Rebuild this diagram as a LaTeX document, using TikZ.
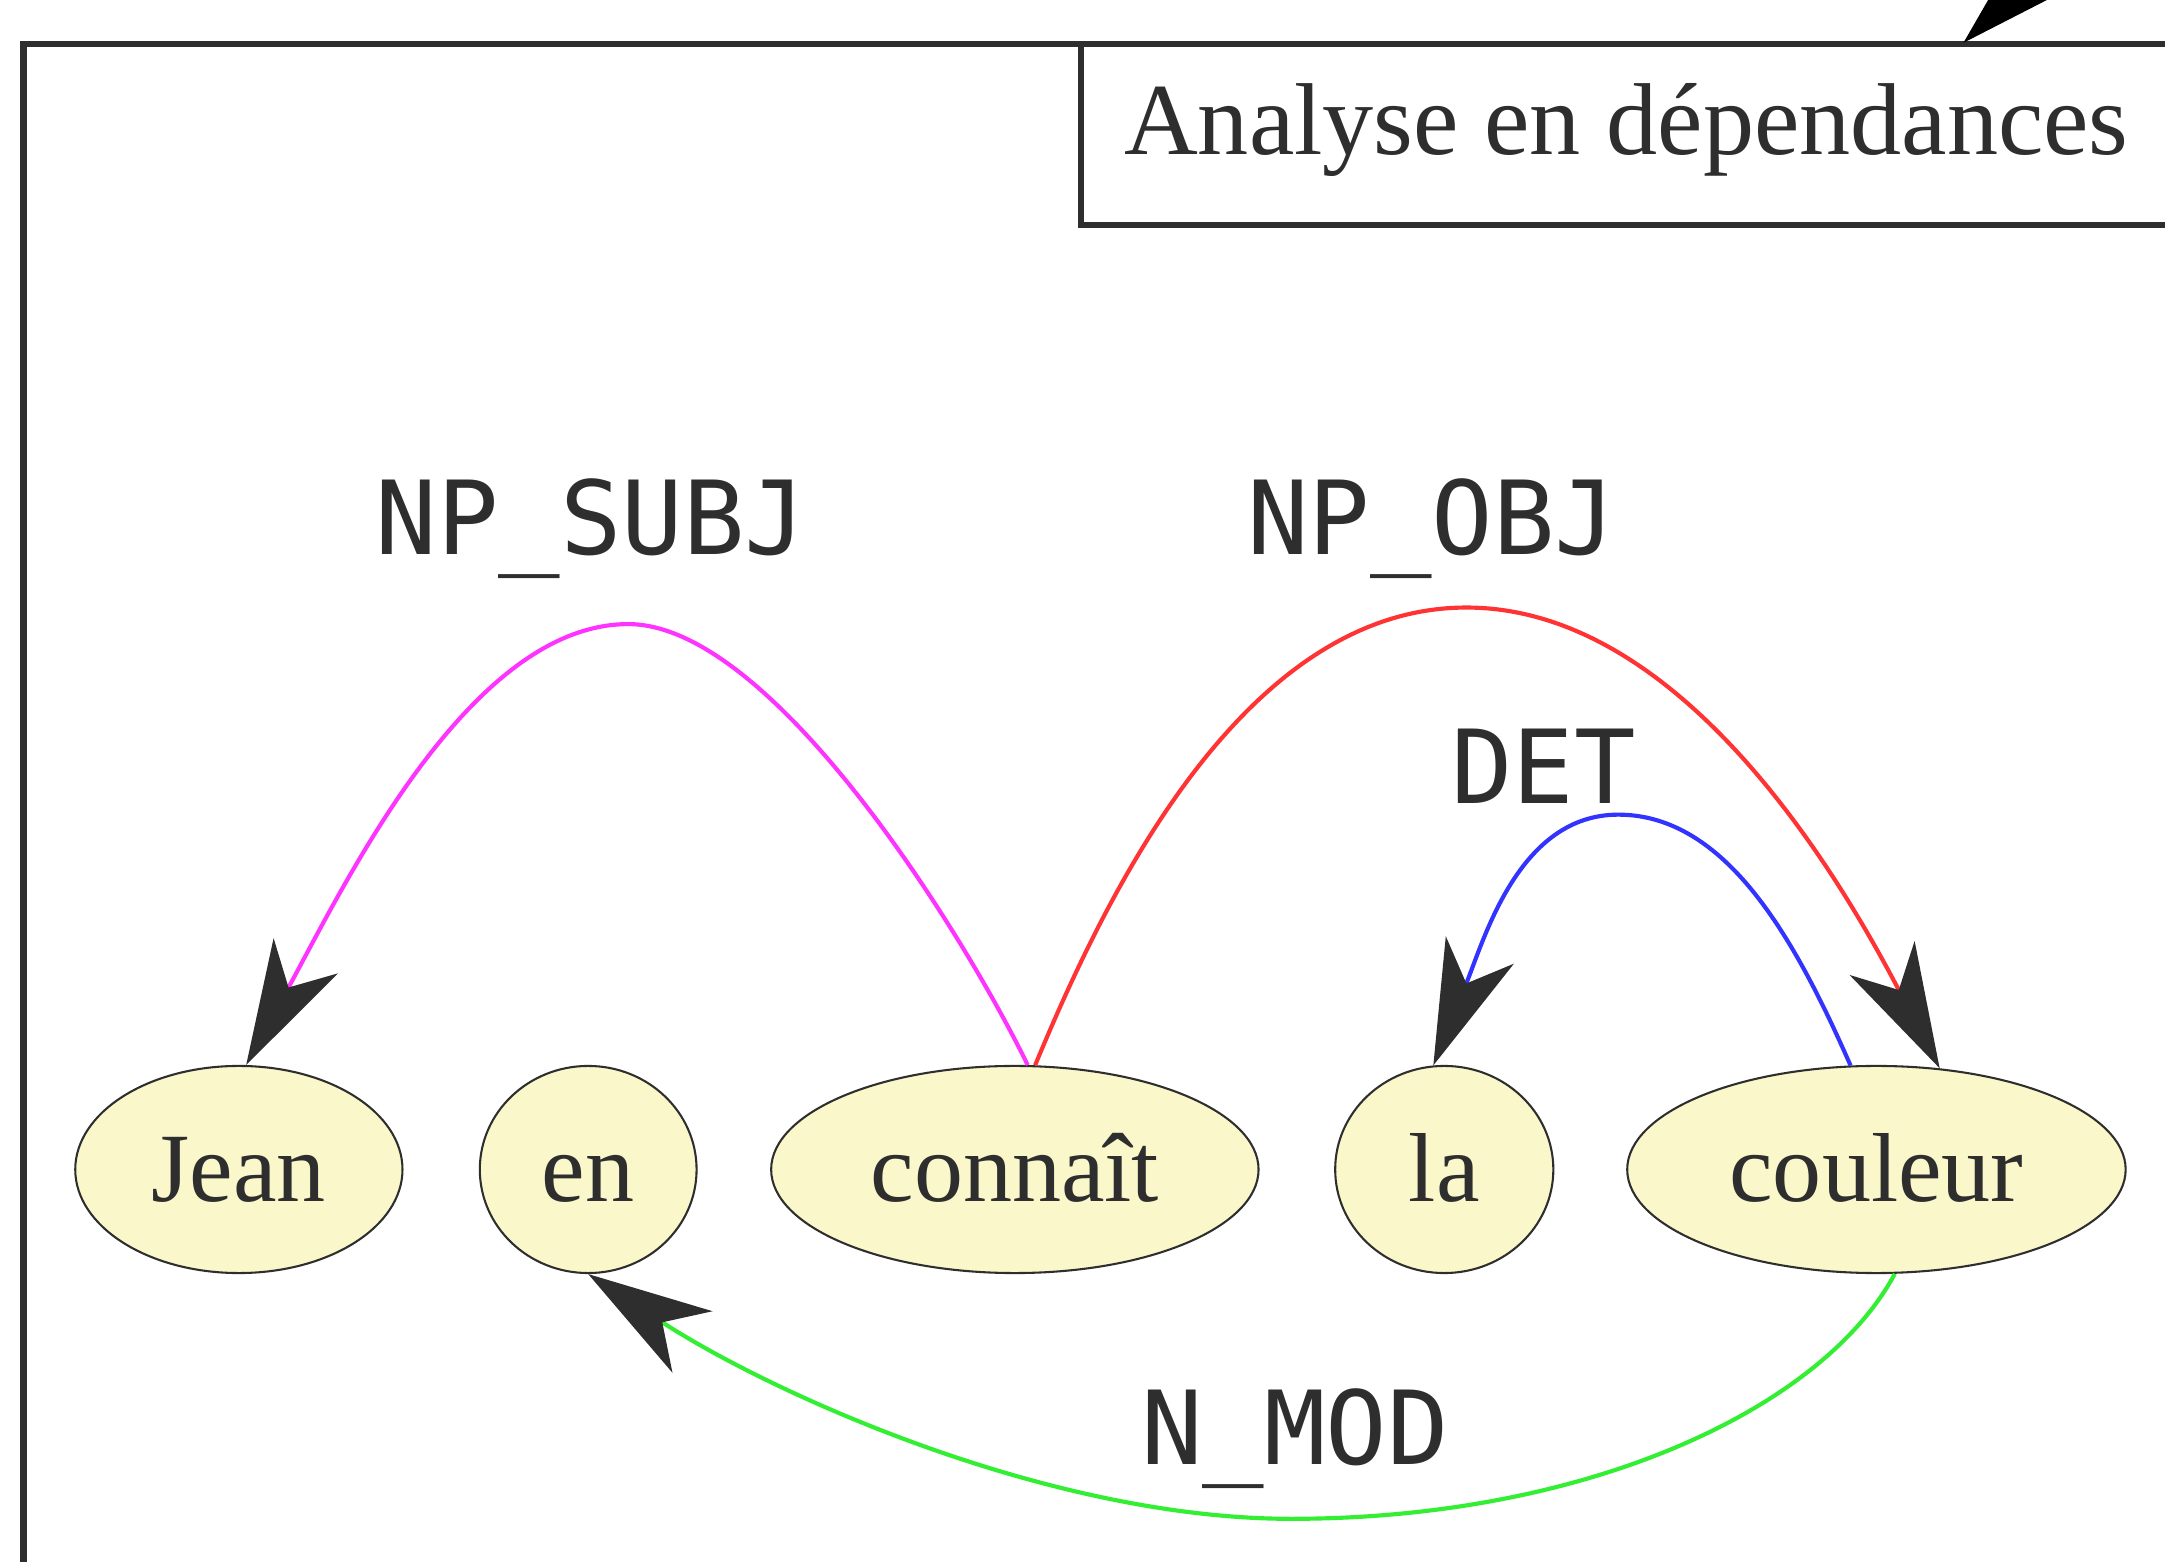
\documentclass[tikz,border=0pt]{standalone}
\usepackage{fontspec}
\setmainfont{Liberation Serif}
\newfontfamily\labfont{DejaVu Sans Mono}
\usetikzlibrary{arrows.meta,shapes.geometric}
\definecolor{nodefill}{HTML}{FAF7CA}
\definecolor{inkgray}{HTML}{2E2E2E}
\definecolor{cmag}{HTML}{FF33FF}
\definecolor{cred}{HTML}{FF3333}
\definecolor{cblue}{HTML}{3333FF}
\definecolor{cgreen}{HTML}{33EE33}
\begin{document}
\begin{tikzpicture}[x=1pt,y=-1pt,
  word/.style={ellipse, draw=inkgray, line width=1.5pt, fill=nodefill, inner sep=0pt,
    minimum height=150pt, text=inkgray, text height=50pt, text depth=4pt,
    font=\fontsize{71}{71}\selectfont},
  lab/.style={font=\labfont\fontsize{74}{74}\selectfont, text=inkgray, inner sep=0pt},
  tip/.style={-{Stealth[length=90pt,width=53pt,inset=26pt,color=inkgray]}},
  dep/.style={line width=3pt, tip}]
\clip (0,0) rectangle (1568,1131);
% frame and title box
\draw[line width=4.5pt, inkgray] (17,32) rectangle (1640,1200);
\draw[line width=4.5pt, inkgray] (783,32) rectangle (1640,163);
\node[anchor=base west, inner sep=0pt, text=inkgray, font=\fontsize{74}{74}\selectfont] (title) at (814,112) {Analyse en dépendances};
\coordinate (src) at (1567,-107);
\coordinate (tgt) at (1422,31);
\draw[line width=3pt, black, -{Stealth[length=90pt,width=53pt,inset=26pt,color=black]}] (src) -- (tgt);
% words
\node[word, minimum width=237pt] (jean) at (173,847) {Jean};
\node[word, minimum width=157pt] (en) at (426,847) {en};
\node[word, minimum width=353pt] (connait) at (735,847) {connaît};
\node[word, minimum width=158pt] (la) at (1046,847) {la};
\node[word, minimum width=361pt] (couleur) at (1359,847) {couleur};
% dependencies
\draw[dep, cmag] (connait.83) .. controls (700,680) and (560,452) .. (455,452)
  .. controls (340,452) and (250,640) .. (jean.86);
\draw[dep, cred] (connait.79) .. controls (800,650) and (900,440) .. (1062,440)
  .. controls (1220,440) and (1335,640) .. (couleur.58);
\draw[dep, cblue] (couleur.104) .. controls (1300,680) and (1250,590) .. (1172,590)
  .. controls (1100,590) and (1075,680) .. (la.96);
\draw[dep, cgreen] (couleur.-80) .. controls (1320,1020) and (1150,1100) .. (935,1100)
  .. controls (760,1100) and (560,1010) .. (en.south);
% labels
\node[lab] (lsubj) at (428,383) {NP\_SUBJ};
\node[lab] (lobj) at (1037,383) {NP\_OBJ};
\node[lab] (ldet) at (1118,555) {DET};
\node[lab] (lmod) at (938,1042) {N\_MOD};
\end{tikzpicture}
\end{document}
